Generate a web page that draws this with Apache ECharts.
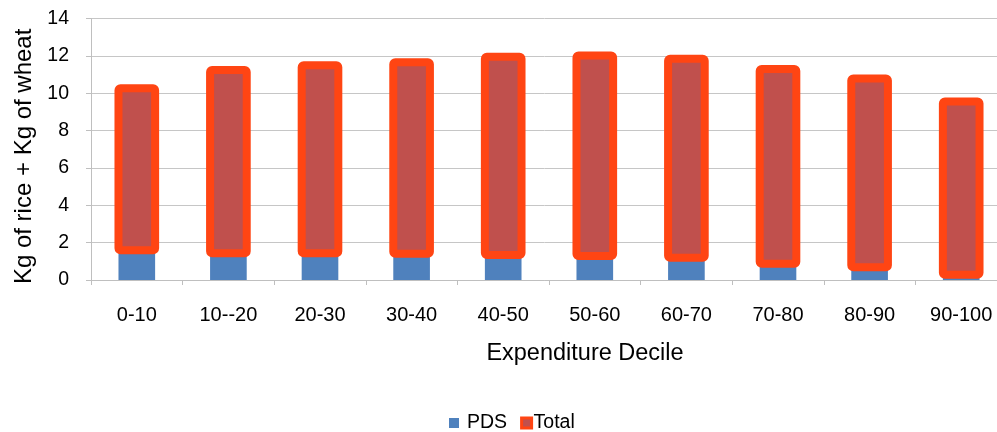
<!DOCTYPE html>
<html>
<head>
<meta charset="utf-8">
<script src="https://cdn.jsdelivr.net/npm/echarts@6/dist/echarts.min.js"></script>
<style>html,body{margin:0;padding:0;background:#fff}#c{width:997px;height:432px}</style>
</head>
<body>
<div id="c"></div>
<script>
var categories = ['0-10', '10--20', '20-30', '30-40', '40-50', '50-60', '60-70', '70-80', '80-90', '90-100'];
var pds = [1.59, 1.43, 1.43, 1.41, 1.34, 1.28, 1.19, 0.87, 0.68, 0.28];
var total = [10.27, 11.25, 11.5, 11.67, 11.96, 12.03, 11.85, 11.3, 10.8, 9.57];
var yTicks = [0, 2, 4, 6, 8, 10, 12, 14];

var FONT = 'Liberation Sans, Arial, sans-serif';
var BORDER = '#FF4513';
var FILL = '#C0504D';
var BLUE = '#4F81BD';

var chart = echarts.init(document.getElementById('c'), null, {renderer: 'canvas'});
var customData = categories.map(function (c, i) { return [i, pds[i], total[i]]; });

chart.setOption({
  animation: false,
  grid: {left: 91, width: 916, top: 18.7, bottom: 152, containLabel: false, outerBoundsMode: 'none'},
  legend: {
    top: 408,
    left: 444,
    itemWidth: 10,
    itemHeight: 10,
    itemGap: 13,
    icon: 'rect',
    textStyle: {fontFamily: FONT, fontSize: 19.5, color: '#000'},
    data: [
      {name: 'PDS', textStyle: {padding: [0, 0, 0, 3]}},
      {name: 'Total', itemStyle: {color: FILL, borderColor: BORDER, borderWidth: 3}, textStyle: {padding: [0, 0, 0, -3]}}
    ]
  },
  xAxis: {
    type: 'category',
    data: categories,
    name: 'Expenditure Decile',
    nameLocation: 'middle',
    nameGap: 62,
    nameTextStyle: {fontFamily: FONT, fontSize: 23.5, color: '#000', padding: [0, 0, 0, 72]},
    axisLine: {show: true, lineStyle: {color: '#BFBFBF', width: 1}},
    axisTick: {show: true, length: 5, lineStyle: {color: '#BFBFBF'}},
    axisLabel: {fontFamily: FONT, fontSize: 20, color: '#000', margin: 25, interval: 0}
  },
  yAxis: {
    type: 'value',
    min: yTicks[0],
    max: yTicks[yTicks.length - 1],
    interval: 2,
    name: 'Kg of rice + Kg of wheat',
    nameLocation: 'middle',
    nameGap: 54,
    nameTextStyle: {fontFamily: FONT, fontSize: 24, color: '#000', padding: [0, 14, 0, 0]},
    axisLine: {show: true, lineStyle: {color: '#BFBFBF', width: 1}},
    axisTick: {show: true, length: 5, lineStyle: {color: '#BFBFBF'}},
    splitLine: {show: true, lineStyle: {color: '#C6C6C6', width: 1}},
    axisLabel: {fontFamily: FONT, fontSize: 19.5, color: '#000', margin: 22}
  },
  series: [
    {
      name: 'PDS',
      type: 'bar',
      data: pds,
      barWidth: '40%',
      itemStyle: {color: BLUE},
      z: 2
    },
    {
      name: 'Total',
      type: 'custom',
      data: customData,
      encode: {x: 0, y: [1, 2]},
      itemStyle: {color: FILL, borderColor: BORDER},
      z: 3,
      renderItem: function (params, api) {
        var idx = api.value(0);
        var p0 = api.coord([idx, api.value(1)]);
        var p1 = api.coord([idx, api.value(2)]);
        var w = api.size([1, 0])[0] * 0.4;
        return {
          type: 'rect',
          shape: {x: p0[0] - w / 2, y: p1[1], width: w, height: p0[1] - p1[1], r: 2},
          style: {fill: FILL, stroke: BORDER, lineWidth: 8, lineJoin: 'round'}
        };
      }
    }
  ]
});
</script>
</body>
</html>
